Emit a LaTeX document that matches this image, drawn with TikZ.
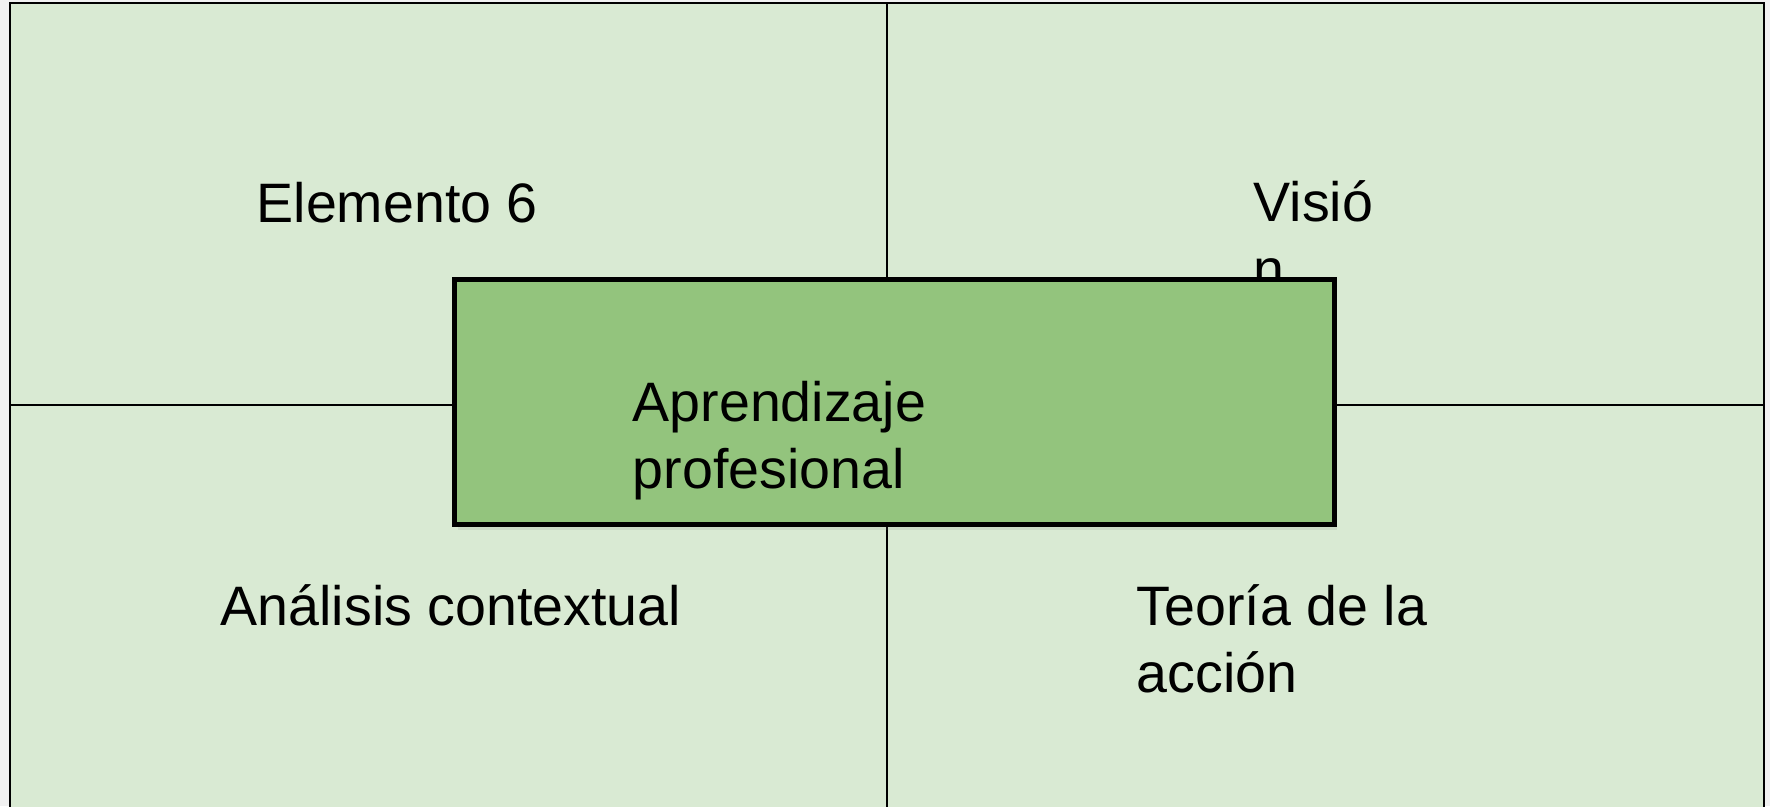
\documentclass[tikz,border=0pt]{standalone}
\usepackage{fontspec}
\setmainfont{Liberation Sans}
\usetikzlibrary{shadows}

\definecolor{panelgreen}{HTML}{D9EAD3}
\definecolor{boxgreen}{HTML}{93C47D}
\definecolor{pagegray}{HTML}{F1F1F1}

\begin{document}
\begin{tikzpicture}[x=0.01cm,y=-0.01cm,
    panel text/.style={anchor=base west,inner sep=0pt,align=left,
      font=\fontsize{15.8}{19}\selectfont}]
    % save position of the dividers to macros
    \pgfmathsetmacro{\midX}{887}
    \pgfmathsetmacro{\midY}{405}

    \useasboundingbox (0,0) rectangle (1770,806);
    \fill[pagegray] (0,0) rectangle (1770,806);
    \clip (0,0) rectangle (1770,806);

    % four panels, the lower edge runs off the page
    \coordinate (topleft) at (10,3);
    \coordinate (botright) at (1764,900);
    \filldraw[fill=panelgreen,draw=black,line width=0.7pt] (topleft) rectangle (botright);
    \draw[line width=0.5pt] (\midX,3) -- (\midX,900);
    \draw[line width=0.5pt] (10,\midY) -- (1764,\midY);

    % base of a two-line text sits on its last line
    \node[panel text] (elemento) at (256,222) {Elemento 6};
    \node[panel text] (vision) at (1253,288) {Visió\\n};
    \node[panel text] (analisis) at (220,625) {Análisis contextual};
    \node[panel text] (teoria) at (1136,692) {Teoría de la\\acción};

    % central box over the crossing
    \node[draw=black,fill=boxgreen,line width=1.4pt,minimum width=87.9mm,
      minimum height=24.4mm,inner sep=0pt,
      drop shadow={opacity=0.15,shadow xshift=0.3mm,shadow yshift=-0.6mm}]
      (centro) at (894.5,402) {};
    \node[panel text] (aprendizaje) at (632,488) {Aprendizaje\\profesional};
\end{tikzpicture}
\end{document}
